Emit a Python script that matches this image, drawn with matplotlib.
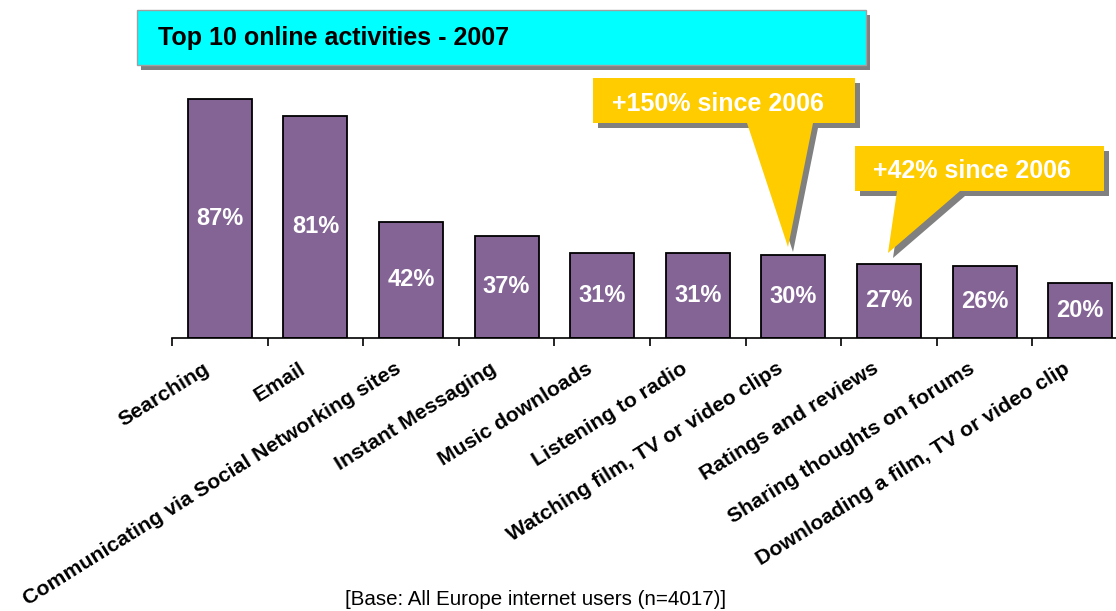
import matplotlib
matplotlib.use("Agg")
import matplotlib.pyplot as plt
import matplotlib.transforms as mtransforms
from matplotlib import font_manager
from matplotlib.patches import Polygon, Rectangle

# -----------------------------------
# Data
# -----------------------------------
activities = [
    "Searching",
    "Email",
    "Communicating via Social Networking sites",
    "Instant Messaging",
    "Music downloads",
    "Listening to radio",
    "Watching film, TV or video clips",
    "Ratings and reviews",
    "Sharing thoughts on forums",
    "Downloading a film, TV or video clip",
]
share = [87, 81, 42, 37, 31, 31, 30, 27, 26, 20]
value_labels = ["87%", "81%", "42%", "37%", "31%", "31%", "30%", "27%", "26%", "20%"]

title = "Top 10 online activities - 2007"
callout_texts = ["+150% since 2006", "+42% since 2006"]
footer = "[Base: All Europe internet users (n=4017)]"

# -----------------------------------
# Fonts
# -----------------------------------
plt.rcParams["font.family"] = ["Liberation Sans", "DejaVu Sans"]

try:
    font_manager.findfont("Liberation Sans Narrow", fallback_to_default=False)
    footer_font = dict(family=["Liberation Sans Narrow", "Liberation Sans"], fontsize=17.5)
except Exception:
    footer_font = dict(family=["Liberation Sans", "DejaVu Sans"], fontsize=14.8)

W, H = 1116, 611
BAR = "#836495"
YELLOW = "#FFCC00"
SHADOW = "#808080"

fig = plt.figure(figsize=(W / 100, H / 100), dpi=100)
fig.patch.set_facecolor("white")

# pixel coords, origin top-left
px = mtransforms.Affine2D().scale(1 / W, -1 / H).translate(0, 1) + fig.transFigure

ax = fig.add_axes([172 / W, (H - 337.5) / H, 956 / W, 274 / H])
ax.set_xlim(-0.5, len(activities) - 0.5)
ax.set_ylim(0, 100)

xs = list(range(len(activities)))
ax.bar(xs, share, width=0.67, color=BAR, edgecolor="black", linewidth=1.3, zorder=2)

for x, v, lab in zip(xs, share, value_labels):
    ax.text(x, v / 2, lab, ha="center", va="center", color="white",
            fontsize=17, fontweight="bold", zorder=3)

# axis styling
for side in ["left", "right", "top"]:
    ax.spines[side].set_visible(False)
ax.spines["bottom"].set_linewidth(1.2)
ax.set_yticks([])
ax.set_xticks([])
ax.set_xticks([x - 0.5 for x in xs] + [len(xs) - 0.5], minor=True)
ax.tick_params(axis="x", which="minor", direction="out", length=6, width=1.2, color="black")

# rotated category labels
lab_trans = mtransforms.offset_copy(ax.get_xaxis_transform(), fig=fig, x=-9, y=-34, units="dots")
for x, name in zip(xs, activities):
    ax.text(x, 0, name, transform=lab_trans, rotation=32, rotation_mode="anchor",
            ha="right", va="baseline", fontsize=15.3, fontweight="bold", clip_on=False)

# -----------------------------------
# Title box
# -----------------------------------
fig.add_artist(Rectangle((141, 15), 729, 55, transform=px, facecolor=SHADOW, edgecolor="none"))
fig.add_artist(Rectangle((137, 10), 729, 55, transform=px, facecolor="#00FFFF",
                         edgecolor="#A0A0A0", linewidth=1))
fig.text(158, 45, title, transform=px, fontsize=18, fontweight="bold", va="baseline")

# -----------------------------------
# Callouts
# -----------------------------------
def callout(poly, text, tx, ty):
    shadow = [(x + 5, y + 5) for x, y in poly]
    fig.add_artist(Polygon(shadow, closed=True, transform=px, facecolor=SHADOW, edgecolor="none"))
    fig.add_artist(Polygon(poly, closed=True, transform=px, facecolor=YELLOW, edgecolor="none"))
    fig.text(tx, ty, text, transform=px, fontsize=18, fontweight="bold",
             color="white", va="baseline")

callout([(593, 78), (855, 78), (855, 123), (813, 123), (788, 247), (747, 123), (593, 123)],
        callout_texts[0], 612, 111)
callout([(855, 146), (1104, 146), (1104, 191), (960, 191), (888, 253), (897, 191), (855, 191)],
        callout_texts[1], 873, 178)

# footer
fig.text(345, 605, footer, transform=px, va="baseline", **footer_font)

fig.savefig("out.png", dpi=100)
